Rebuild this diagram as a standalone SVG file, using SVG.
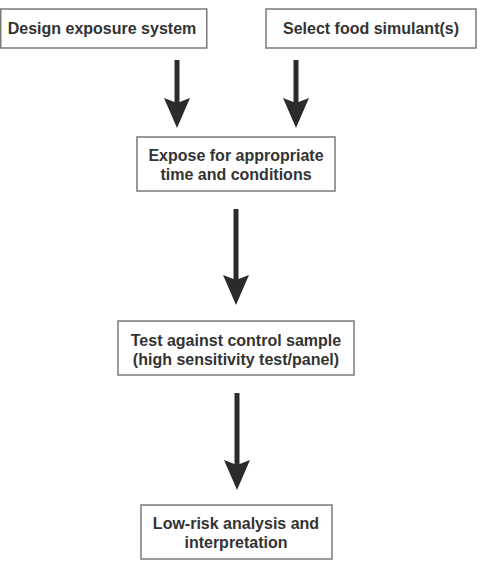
<svg xmlns="http://www.w3.org/2000/svg" width="481" height="567" viewBox="0 0 481 567">
<style>
.box{fill:#fff;stroke:#7a7a7a;stroke-width:1.5}
.t{font-family:"Liberation Sans",Arial,sans-serif;font-weight:bold;font-size:16px;fill:#333;text-anchor:middle}
.arr{stroke:#2b2b2d;stroke-width:5;fill:none;marker-end:url(#ah)}
</style>
<defs>
<marker id="ah" viewBox="0 0 30 26" markerWidth="30" markerHeight="26" markerUnits="userSpaceOnUse" refX="10" refY="13" orient="auto">
<path d="M0,0 L30,13 L0,26 L5,13 z" fill="#2b2b2d"/>
</marker>
</defs>
<rect width="481" height="567" fill="#fff"/>
<g id="connectors">
<line class="arr" x1="177" y1="60" x2="177" y2="108"/>
<line class="arr" x1="296" y1="60" x2="296" y2="108"/>
<line class="arr" x1="236" y1="209" x2="236" y2="285"/>
<line class="arr" x1="237" y1="393" x2="237" y2="470"/>
</g>
<g id="design">
<rect class="box" x="0.75" y="9" width="206" height="39"/>
<text class="t" x="102" y="34">Design exposure system</text>
</g>
<g id="select">
<rect class="box" x="266" y="9" width="210" height="39"/>
<text class="t" x="371" y="34">Select food simulant(s)</text>
</g>
<g id="expose">
<rect class="box" x="137" y="137" width="198" height="54"/>
<text class="t" x="236" y="161">Expose for appropriate</text>
<text class="t" x="236" y="180">time and conditions</text>
</g>
<g id="test">
<rect class="box" x="118" y="321" width="236" height="54"/>
<text class="t" x="236" y="346">Test against control sample</text>
<text class="t" x="236" y="365">(high sensitivity test/panel)</text>
</g>
<g id="lowrisk">
<rect class="box" x="141" y="505" width="191" height="54"/>
<text class="t" x="236" y="529">Low-risk analysis and</text>
<text class="t" x="236" y="548">interpretation</text>
</g>
</svg>
